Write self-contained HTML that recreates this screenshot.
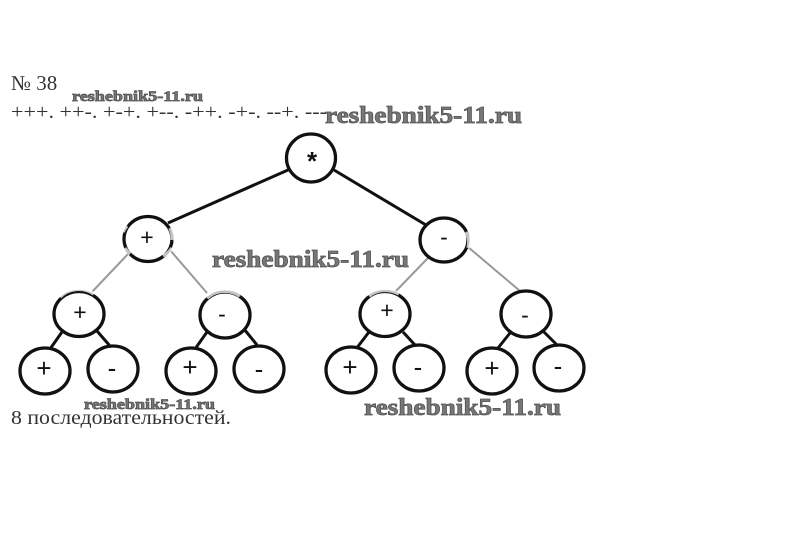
<!DOCTYPE html>
<html><head><meta charset="utf-8"><style>
html,body{margin:0;padding:0;background:#fff;width:811px;height:554px;overflow:hidden}
svg{display:block}
.t{font-family:"Liberation Serif",serif;fill:#333;font-size:20px}
.w{font-family:"Liberation Serif",serif;font-weight:bold;fill:#777;stroke:#555;stroke-width:.8}
.l{font-family:"Liberation Sans",sans-serif;fill:#111;text-anchor:middle}
.c{fill:#fff;stroke:#111;stroke-width:3.300}
.e{stroke:#111;stroke-width:3;fill:none}
.g{stroke:#999;stroke-width:2;fill:none}
</style></head><body>
<svg width="811" height="554" viewBox="0 0 811 554" xmlns="http://www.w3.org/2000/svg">
<rect width="811" height="554" fill="#fff"/>
<path class="e" d="M288 170L168 223M334 170L426 225M62 332L50 349M97 331L110 346M207 332L195 349M244 329L257 345M369 332L356 349M403 332L415 345M510 333L498 348M544 332L557 345"/>
<path class="g" d="M128 254L92 292M170 250L207 293M395 292L428 258M520 291L468 247"/>
<ellipse class="c" cx="311" cy="158" rx="24.500" ry="24"/>
<ellipse class="c" cx="148" cy="239" rx="24" ry="22.500"/>
<ellipse class="c" cx="444" cy="240" rx="24" ry="22"/>
<ellipse class="c" cx="79" cy="314" rx="25" ry="22.500"/>
<ellipse class="c" cx="225" cy="315" rx="25" ry="23"/>
<ellipse class="c" cx="385" cy="314" rx="25" ry="22.500"/>
<ellipse class="c" cx="526" cy="314" rx="25" ry="23"/>
<ellipse class="c" cx="45" cy="371" rx="25" ry="23"/>
<ellipse class="c" cx="113" cy="369" rx="25" ry="23"/>
<ellipse class="c" cx="191" cy="371" rx="25" ry="23"/>
<ellipse class="c" cx="259" cy="369" rx="25" ry="23"/>
<ellipse class="c" cx="351" cy="370" rx="25" ry="23"/>
<ellipse class="c" cx="419" cy="368" rx="25" ry="23"/>
<ellipse class="c" cx="492" cy="371" rx="25" ry="23"/>
<ellipse class="c" cx="559" cy="368" rx="25" ry="23"/>
<path d="M123 232A25 23 0 0 1 127 226M170 228A25 23 0 0 1 172 240M125 248A25 23 0 0 0 130 254M163 256A25 23 0 0 0 172 248M60 297A25 23 0 0 1 94 294M207 298A25 23 0 0 1 240 296M369 296A25 23 0 0 1 399 294M466 232A24 22 0 0 1 468 248" stroke="#fff" stroke-width="3.500" fill="none" opacity=".75"/>
<text class="l" x="312" y="170" font-size="26" font-weight="bold">*</text>
<text class="l" x="147" y="245" font-size="23">+</text>
<text class="l" x="444" y="245" font-size="23">-</text>
<text class="l" x="80" y="320" font-size="23">+</text>
<text class="l" x="222" y="322" font-size="23">-</text>
<text class="l" x="387" y="318" font-size="23">+</text>
<text class="l" x="525" y="323" font-size="23">-</text>
<text class="l" x="44" y="377" font-size="26">+</text>
<text class="l" x="112" y="377" font-size="26">-</text>
<text class="l" x="190" y="376" font-size="26">+</text>
<text class="l" x="259" y="378" font-size="26">-</text>
<text class="l" x="350" y="376" font-size="26">+</text>
<text class="l" x="418" y="376" font-size="26">-</text>
<text class="l" x="492" y="377" font-size="26">+</text>
<text class="l" x="558" y="375" font-size="26">-</text>
<text class="t" x="11" y="90" font-size="21" style="font-size:21px">№ 38</text>
<text class="t" x="11" y="118" textLength="316" lengthAdjust="spacingAndGlyphs">+++. ++-. +-+. +--. -++. -+-. --+. ---</text>
<text class="t" x="11" y="424" textLength="220" lengthAdjust="spacingAndGlyphs">8 последовательностей.</text>
<text class="w" x="72" y="101" font-size="15" textLength="131" lengthAdjust="spacingAndGlyphs">reshebnik5-11.ru</text>
<text class="w" x="325" y="123" font-size="24" textLength="197" lengthAdjust="spacingAndGlyphs">reshebnik5-11.ru</text>
<text class="w" x="212" y="267" font-size="24" textLength="197" lengthAdjust="spacingAndGlyphs">reshebnik5-11.ru</text>
<text class="w" x="84" y="409" font-size="15" textLength="131" lengthAdjust="spacingAndGlyphs">reshebnik5-11.ru</text>
<text class="w" x="364" y="415" font-size="24" textLength="197" lengthAdjust="spacingAndGlyphs">reshebnik5-11.ru</text>
</svg>
</body></html>
